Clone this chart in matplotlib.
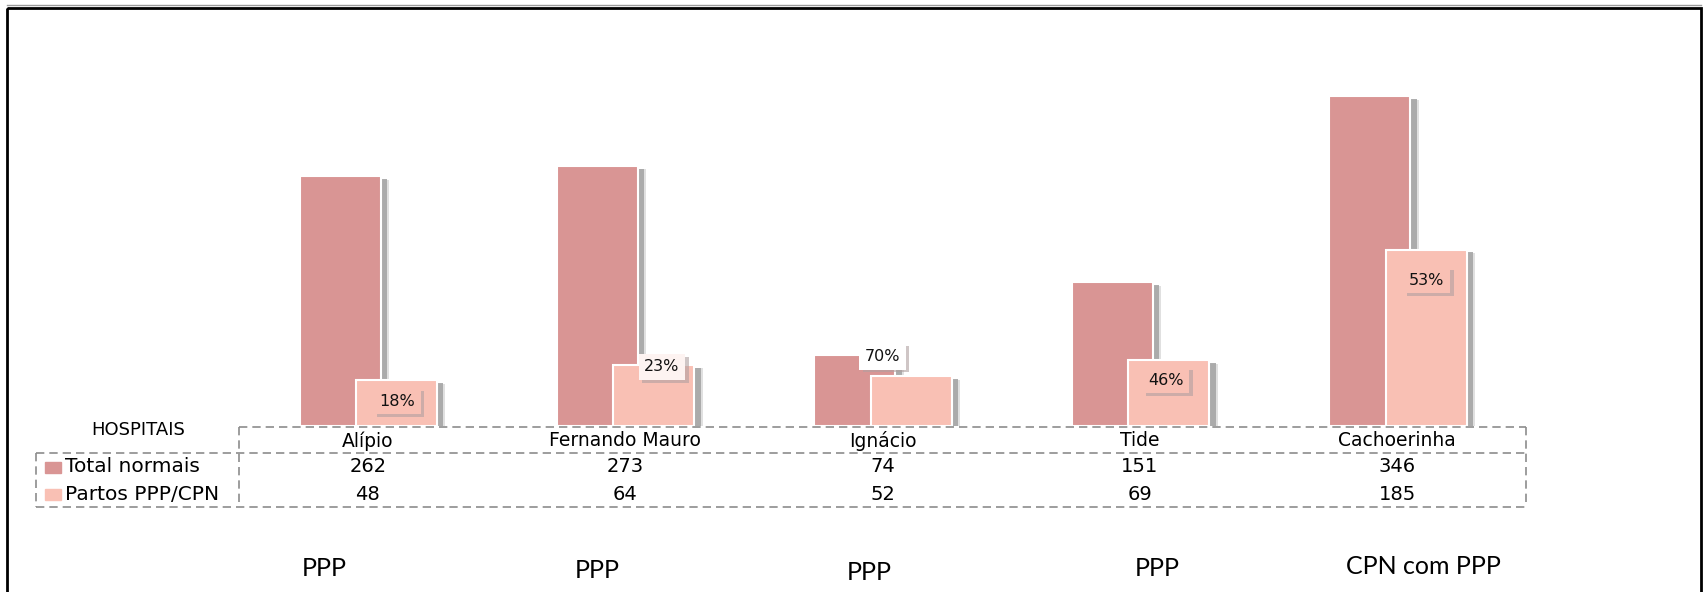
import numpy as np
import matplotlib
matplotlib.use("Agg")
import matplotlib.pyplot as plt
import matplotlib.patheffects as pe
from matplotlib.patches import Rectangle
from matplotlib.lines import Line2D
from matplotlib.transforms import blended_transform_factory

# Data
hospitals = ["Alípio", "Fernando Mauro", "Ignácio", "Tide", "Cachoerinha"]
total_normais = [262, 273, 74, 151, 346]
partos_ppp_cpn = [48, 64, 52, 69, 185]
tipos = ["PPP", "PPP", "PPP", "PPP", "CPN com PPP"]
series_names = ["Total normais", "Partos PPP/CPN"]

color_total = "#D99594"
color_partos = "#F9C0B4"
dash_color = "#8c8c8c"
table_font = "DejaVu Sans"

W, H = 1703, 592
fig = plt.figure(figsize=(W / 100, H / 100), dpi=100)

# Background axes in pixel coordinates (origin top-left) for frame and table lines
bg = fig.add_axes([0, 0, 1, 1])
bg.set_xlim(0, W)
bg.set_ylim(H, 0)
bg.axis("off")

# Bar axes
ax = fig.add_axes([239 / W, 166 / H, 1287 / W, 386 / H])
ax.set_xlim(-0.5, len(hospitals) - 0.5)
ax.set_ylim(0, 405)
ax.axis("off")
ax.patch.set_alpha(0)

x = np.arange(len(hospitals))
bar_w = 0.315
bar_shadow = [pe.SimplePatchShadow(offset=(6, -2.5), shadow_rgbFace="#d4d4d4", alpha=0.7),
              pe.SimplePatchShadow(offset=(4.5, -2), shadow_rgbFace="#a6a6a6", alpha=0.9),
              pe.Normal()]

bars_total = ax.bar(x - 0.107, total_normais, bar_w, color=color_total,
                    edgecolor="white", linewidth=1.5)
bars_partos = ax.bar(x + 0.112, partos_ppp_cpn, bar_w, color=color_partos,
                     edgecolor="white", linewidth=1.5)
for b in list(bars_total) + list(bars_partos):
    b.set_path_effects(bar_shadow)

# Percentage labels (partos / total)
pct_dx = [0.114, 0.143, 0.0, 0.101, 0.115]
pct_y = [26, 62, 73, 48, 153]
pct_box = [color_partos, "#fdf3f1", "white", color_partos, color_partos]
for i in range(len(hospitals)):
    pct = round(100 * partos_ppp_cpn[i] / total_normais[i])
    t = ax.text(x[i] + pct_dx[i], pct_y[i], f"{pct}%", ha="center", va="center",
                fontsize=11.5, family="DejaVu Sans", color="#111111", zorder=5,
                bbox=dict(boxstyle="square,pad=0.35", fc=pct_box[i], ec="none"))
    t.get_bbox_patch().set_path_effects(
        [pe.SimplePatchShadow(offset=(2.5, -2), shadow_rgbFace="#b0a0a0", alpha=0.6), pe.Normal()])

# Data table under the bars
dash = dict(color=dash_color, linewidth=1.2, linestyle=(0, (5, 3)))
tab_left, tab_col, tab_right = 36, 239, 1526
y_top, y_mid, y_bot = 427, 453, 507
for (x0, y0, x1, y1) in [(tab_col, y_top, tab_right, y_top),
                         (tab_left, y_mid, tab_right, y_mid),
                         (tab_left, y_bot, tab_right, y_bot),
                         (tab_left, y_mid, tab_left, y_bot),
                         (tab_col, y_top, tab_col, y_bot),
                         (tab_right, y_top, tab_right, y_bot)]:
    bg.add_line(Line2D([x0, x1], [y0, y1], **dash))

blend = blended_transform_factory(ax.transData, bg.transData)
row_y = [441, 467, 494]
for i, name in enumerate(hospitals):
    bg.text(x[i], row_y[0], name, transform=blend, ha="center", va="center",
            fontsize=13.5, family=table_font)
    bg.text(x[i], row_y[1], str(total_normais[i]), transform=blend, ha="center",
            va="center", fontsize=14, family=table_font)
    bg.text(x[i], row_y[2], str(partos_ppp_cpn[i]), transform=blend, ha="center",
            va="center", fontsize=14, family=table_font)

bg.text(138, 430, "HOSPITAIS", ha="center", va="center", fontsize=13, family=table_font)
for j, (name, col) in enumerate(zip(series_names, [color_total, color_partos])):
    bg.add_patch(Rectangle((45, row_y[j + 1] - 5), 16, 11, color=col))
    bg.text(65, row_y[j + 1], name, ha="left", va="center", fontsize=14.5, family=table_font)

# Type of unit under each hospital
tipo_x = [324, 597, 869, 1157, 1423]
tipo_y = [568, 570, 572, 568, 566]
for name, tx, ty in zip(tipos, tipo_x, tipo_y):
    bg.text(tx, ty, name, ha="center", va="center", fontsize=18, family="Lato")

# Outer frame
bg.add_line(Line2D([7, W - 2], [5, 5], color="#9a9a9a", linewidth=1))
bg.add_patch(Rectangle((7, 7.5), W - 9, H + 10, fill=False, edgecolor="black", linewidth=2))

fig.savefig("out.png", dpi=100)
